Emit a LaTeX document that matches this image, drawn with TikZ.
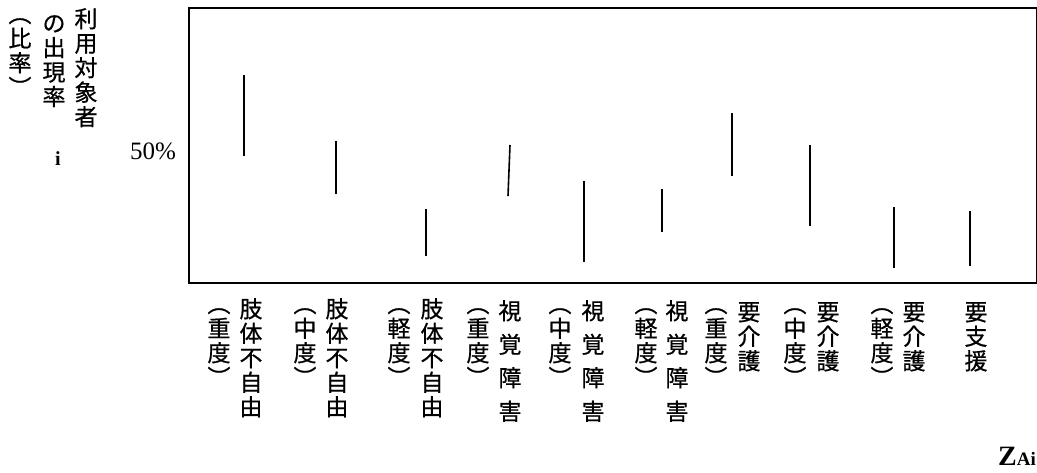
\documentclass[tikz,border=0pt]{standalone}
\usepackage{fontspec}
\setmainfont{Liberation Serif}
\newfontfamily\jp[FakeBold=0.6]{Noto Sans CJK JP}

\begin{document}
\begin{tikzpicture}[x=1pt, y=-1pt,
    tate/.style={anchor=north, inner sep=0pt, align=center,
                 font=\jp\fontsize{23}{24.5}\selectfont},
    tatewide/.style={tate, font=\jp\fontsize{23}{33.5}\selectfont},
    seg/.style={line width=1.6pt}]
  \useasboundingbox (0,0) rectangle (1037,472);
  \node[draw, line width=1.6pt, anchor=north west, inner sep=0pt,
        minimum width=848pt, minimum height=275pt] (box) at (188,7) {};
  % ranges
  \foreach \xa/\ya/\xb/\yb in {244/75/244/156, 336/141/336/194, 426/209/426/256,
      510/145/508/196, 584/181/584/262, 662/189/662/232, 732/113/732/176,
      810/145/810/226, 894/207/894/268, 970/211/970/266}
    \draw[seg] (\xa,\ya) -- (\xb,\yb);
  % axis
  \node[tate] (who)   at (86,8)  {利\\用\\対\\象\\者};
  \node[tate] (rate)  at (54,15) {の\\出\\現\\率};
  \node[tate] (ratio) at (20,18) {︵\\比\\率\\︶};
  \node[anchor=base, font=\bfseries\fontsize{20}{20}\selectfont] (mark) at (58,165) {i};
  \node[anchor=base, font=\fontsize{25}{25}\selectfont] (half) at (153,159) {50\%};
  % groups
  \node[tate] (b1) at (219,308) {︵\\重\\度\\︶};
  \node[tate] (g1) at (251,298) {肢\\体\\不\\自\\由};
  \node[tate] (b2) at (305,308) {︵\\中\\度\\︶};
  \node[tate] (g2) at (337,298) {肢\\体\\不\\自\\由};
  \node[tate] (b3) at (399,308) {︵\\軽\\度\\︶};
  \node[tate] (g3) at (432,298) {肢\\体\\不\\自\\由};
  \node[tate] (b4) at (478,308) {︵\\重\\度\\︶};
  \node[tatewide] (g4) at (510,300) {視\\覚\\障\\害};
  \node[tate] (b5) at (560,308) {︵\\中\\度\\︶};
  \node[tatewide] (g5) at (593,300) {視\\覚\\障\\害};
  \node[tate] (b6) at (646,308) {︵\\軽\\度\\︶};
  \node[tatewide] (g6) at (677,300) {視\\覚\\障\\害};
  \node[tate] (b7) at (716,308) {︵\\重\\度\\︶};
  \node[tate] (g7) at (749,302) {要\\介\\護};
  \node[tate] (b8) at (795,308) {︵\\中\\度\\︶};
  \node[tate] (g8) at (828,302) {要\\介\\護};
  \node[tate] (b9) at (882,308) {︵\\軽\\度\\︶};
  \node[tate] (g9) at (914,302) {要\\介\\護};
  \node[tate] (g10) at (976,302) {要\\支\\援};
  \node[anchor=base east, inner sep=0pt, font=\bfseries] (src) at (1036,465)
    {\fontsize{28}{28}\selectfont Z\fontsize{19}{19}\selectfont Ai};
\end{tikzpicture}
\end{document}
